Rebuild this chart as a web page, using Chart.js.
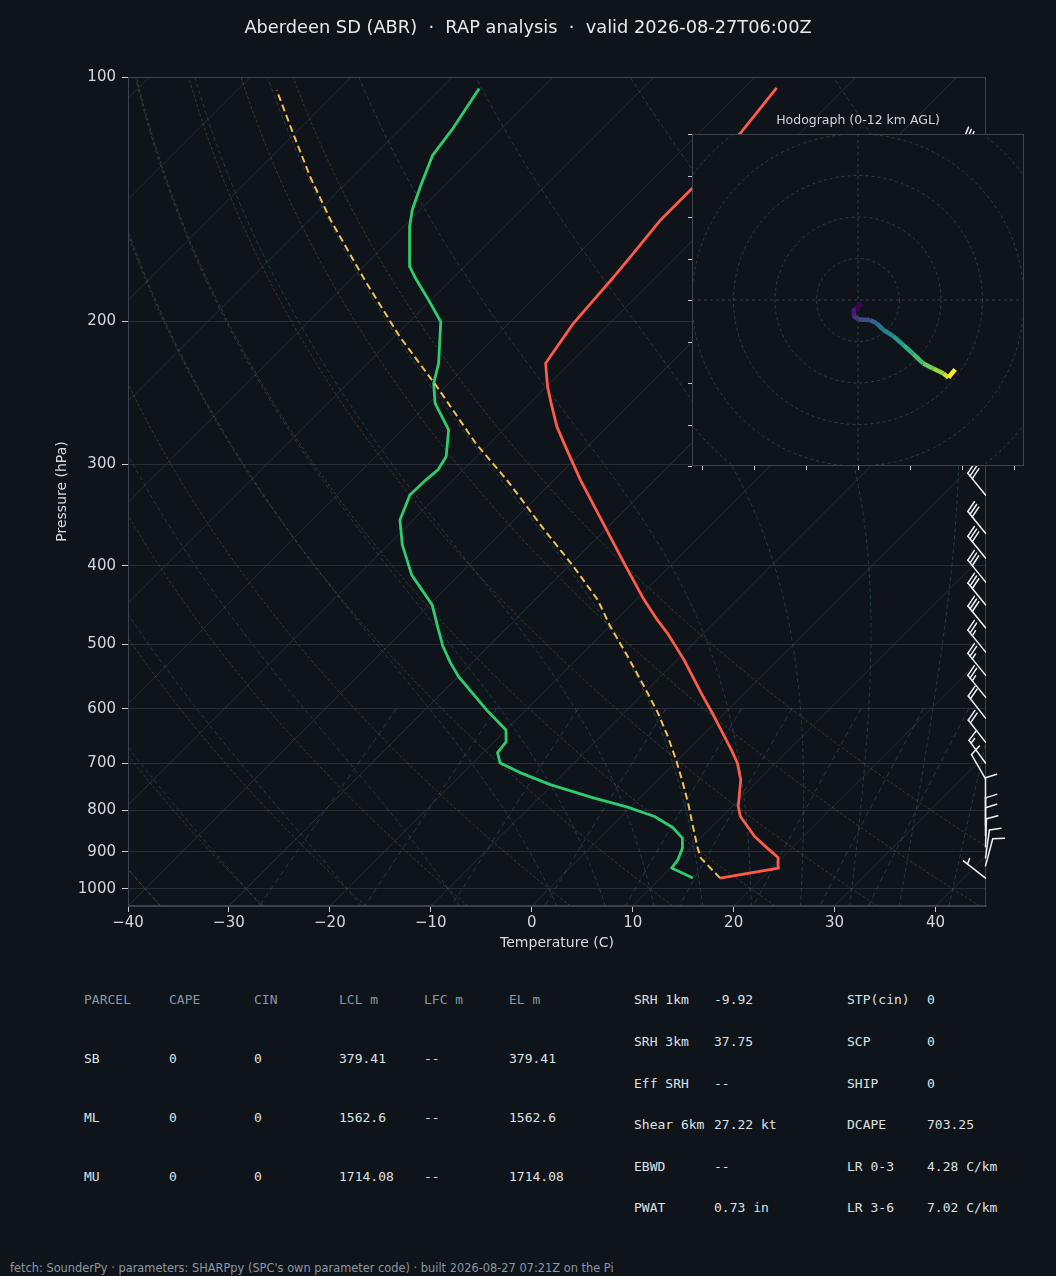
<!DOCTYPE html>
<html><head><meta charset="utf-8">
<script src="https://cdn.jsdelivr.net/npm/chart.js@4.4.1/dist/chart.umd.min.js"></script>
<style>
html,body{margin:0;padding:0;background:#0f141a;}
body{width:1056px;height:1276px;position:relative;overflow:hidden;font-family:'DejaVu Sans',sans-serif;}
canvas{position:absolute;}
#main{left:0;top:0;}
#hodo{left:672px;top:100px;}
.t{position:absolute;white-space:pre;transform:translateY(-50%);line-height:1;}
.mono{font-family:'DejaVu Sans Mono',monospace;font-size:13px;color:#dde1e6;}
.hdr{color:#8797ab;}
</style></head>
<body>
<canvas id="main" width="1056" height="960"></canvas>
<canvas id="hodo" width="370" height="390"></canvas>
<div class="t" style="left:0;width:1056px;text-align:center;top:27px;font-size:17.8px;color:#e6e9ed;">Aberdeen SD (ABR)  ·  RAP analysis  ·  valid 2026-08-27T06:00Z</div>
<div class="t" style="left:758px;width:200px;text-align:center;top:120px;font-size:12.5px;color:#d0d5db;">Hodograph (0-12 km AGL)</div>
<div id="tables"></div>
<div class="t" style="left:10px;top:1269px;font-size:11.4px;color:#8b97a6;">fetch: SounderPy · parameters: SHARPpy (SPC's own parameter code) · built 2026-08-27 07:21Z on the Pi</div>
<script>
// ---------------- DATA ----------------
const tempP = [970.1, 943.0, 915.1, 891.0, 862.2, 814.6, 791.8, 769.7, 734.1, 699.9, 674.2, 613.5, 574.1, 522.4, 484.2, 466.5, 440.6, 400.2, 313.5, 288.0, 269.6, 252.2, 240.6, 225.2, 214.8, 201.1, 188.3, 176.2, 164.9, 150.0, 144.4, 137.1, 117.3, 103.1];
const tempT = [15.9, 20.7, 19.6, 17.6, 15.2, 11.8, 10.6, 9.7, 8.2, 6.2, 4.3, -0.7, -4.3, -9.3, -13.6, -15.9, -19.2, -24.4, -37.4, -41.7, -45.0, -47.9, -49.9, -52.4, -52.9, -53.6, -53.9, -54.2, -54.6, -55.2, -55.2, -55.2, -55.9, -56.8];
const dewP = [970.1, 943.0, 921.1, 891.0, 866.1, 840.5, 814.6, 793.2, 773.2, 744.6, 720.3, 699.9, 679.4, 659.2, 637.2, 602.1, 547.6, 527.2, 503.0, 479.8, 446.9, 410.5, 377.0, 351.3, 327.2, 313.5, 304.8, 293.5, 272.1, 252.2, 238.4, 225.2, 200.2, 187.4, 177.0, 171.3, 152.9, 145.8, 136.5, 124.8, 116.2, 103.3];
const dewT = [13.2, 10.1, 9.9, 9.2, 8.2, 6.2, 3.3, -0.3, -4.5, -10.1, -14.2, -17.3, -18.6, -18.8, -20.0, -23.9, -30.0, -32.1, -34.5, -36.6, -39.7, -44.7, -48.6, -51.3, -52.8, -52.7, -52.5, -53.0, -55.4, -59.4, -61.5, -63.0, -66.9, -70.5, -73.7, -75.4, -79.4, -80.8, -82.3, -84.2, -84.8, -86.2];
const parcelP = [970.1, 916.6, 891.0, 838.2, 784.3, 741.1, 693.4, 649.4, 607.6, 563.5, 517.5, 475.3, 440.6, 400.2, 361.4, 331.9, 313.5, 282.6, 241.7, 208.8, 178.7, 150.0, 132.7, 117.3, 103.8];
const parcelT = [15.9, 12.0, 10.7, 8.1, 5.3, 2.8, -0.2, -3.3, -6.6, -10.6, -15.2, -19.9, -23.8, -29.6, -36.0, -41.2, -44.7, -51.4, -60.6, -69.5, -78.3, -87.9, -94.2, -100.2, -106.1];
const barbP = [970.1, 936.9, 915.9, 887.7, 860.5, 836.5, 790.2, 732.0, 699.9, 659.7, 616.2, 580.6, 545.5, 510.7, 477.0, 446.9, 418.7, 391.3, 364.8, 327.2, 297.9, 277.2, 257.9, 239.9, 223.2, 207.6, 193.1, 179.7, 167.1, 155.4, 144.6, 134.5, 125.1];
const barbDir = [308, 15, 8, 2, 0, 0, 0, 330, 324, 322, 322, 321, 321, 321, 321, 321, 321, 321, 321, 321, 318, 316, 315, 314, 313, 312, 312, 311, 311, 310, 310, 310, 310];
const barbSpd = [5, 10, 10, 10, 10, 10, 10, 10, 15, 20, 20, 25, 25, 25, 30, 30, 30, 30, 30, 30, 30, 30, 35, 35, 35, 35, 35, 35, 35, 35, 35, 35, 35];
const hodoU = [0.9, -1.0, -1.0, 0.1, 2.9, 4.5, 6.1, 8.5, 10.9, 13.3, 15.7, 18.1, 20.6, 21.8, 23.4];
const hodoV = [-0.8, -2.4, -3.9, -4.7, -4.8, -5.6, -7.2, -8.7, -10.8, -13.0, -15.3, -16.5, -17.7, -18.7, -16.7];
const tempTicks = [-40, -30, -20, -10, 0, 10, 20, 30, 40];
const presTicks = [100, 200, 300, 400, 500, 600, 700, 800, 900, 1000];
const hodoYTicks = [-40, -30, -20, -10, 0, 10, 20, 30, 40];
const hodoXTicks = [-37.5, -25, -12.5, 0, 12.5, 25, 37.5];
const hodoRings = [10, 20, 30, 40, 50, 60];
const dryT0 = [-40, -30, -20, -10, 0, 10, 20, 30, 40, 50];
const moistT0 = [-40, -30, -20, -10, 0, 5, 10, 15, 20, 25, 30, 35, 40, 45, 50];
const mixW = [0.4, 1, 2, 4, 7, 10, 16, 24, 32];
const parcelHdr = ['PARCEL', 'CAPE', 'CIN', 'LCL m', 'LFC m', 'EL m'];
const parcelRows = [
  ['SB', '0', '0', '379.41', '--', '379.41'],
  ['ML', '0', '0', '1562.6', '--', '1562.6'],
  ['MU', '0', '0', '1714.08', '--', '1714.08']
];
const paramLabels1 = ['SRH 1km', 'SRH 3km', 'Eff SRH', 'Shear 6km', 'EBWD', 'PWAT'];
const paramValues1 = ['-9.92', '37.75', '--', '27.22 kt', '--', '0.73 in'];
const paramLabels2 = ['STP(cin)', 'SCP', 'SHIP', 'DCAPE', 'LR 0-3', 'LR 3-6'];
const paramValues2 = ['0', '0', '0', '703.25', '4.28 C/km', '7.02 C/km'];

// ---------------- GEOMETRY ----------------
const PBOT = 1050, PTOP = 100;
const SKEW = (829 / Math.log10(PBOT / PTOP)) / (858 / 85); // deg per pressure decade -> 45 deg isotherms
function sk(T, p) { return T + SKEW * Math.log10(PBOT / p); }
const BG = '#0f141a';

// ---------------- TABLES ----------------
(function () {
  const box = document.getElementById('tables');
  const add = (txt, x, y, cls) => {
    const d = document.createElement('div');
    d.className = 't mono' + (cls ? ' ' + cls : '');
    d.style.left = x + 'px'; d.style.top = y + 'px';
    d.textContent = txt; box.appendChild(d);
  };
  const colX = [84, 169, 254, 339, 424, 509];
  parcelHdr.forEach((h, i) => add(h, colX[i], 999, 'hdr'));
  const rowY = [1058, 1117, 1176];
  parcelRows.forEach((r, j) => r.forEach((c, i) => add(c, colX[i], rowY[j])));
  const pY = [999, 1041, 1083, 1124, 1166, 1207];
  paramLabels1.forEach((l, i) => { add(l, 634, pY[i]); add(paramValues1[i], 714, pY[i]); });
  paramLabels2.forEach((l, i) => { add(l, 847, pY[i]); add(paramValues2[i], 927, pY[i]); });
})();

// ---------------- THERMO HELPERS (background guide lines) ----------------
function dTdp(p, T) {
  const es = 6.112 * Math.exp(17.67 * (T - 273.15) / (T - 29.65));
  const rs = 0.622 * es / (p - es);
  const num = 287.04 * T + 2.501e6 * rs;
  const den = 1005.7 + (2.501e6 * 2.501e6 * rs * 0.622) / (287.04 * T * T);
  return num / den / p;
}
function moistLine(t0) {
  const step = 5;
  let T = t0 + 273.15, p = 1000;
  const up = [[p, T]];
  while (p > PTOP) {
    const h = -step;
    const k1 = dTdp(p, T), k2 = dTdp(p + h / 2, T + h / 2 * k1), k3 = dTdp(p + h / 2, T + h / 2 * k2), k4 = dTdp(p + h, T + h * k3);
    T += h / 6 * (k1 + 2 * k2 + 2 * k3 + k4); p += h; up.push([p, T]);
  }
  T = t0 + 273.15; p = 1000; const down = [];
  while (p < PBOT) {
    const h = step;
    const k1 = dTdp(p, T), k2 = dTdp(p + h / 2, T + h / 2 * k1), k3 = dTdp(p + h / 2, T + h / 2 * k2), k4 = dTdp(p + h, T + h * k3);
    T += h / 6 * (k1 + 2 * k2 + 2 * k3 + k4); p += h; down.push([p, T]);
  }
  return down.reverse().concat(up).map(a => [a[0], a[1] - 273.15]);
}

function strokePath(ctx, pts, X, Y) {
  ctx.beginPath();
  pts.forEach((q, i) => { const px = X(q[1], q[0]), py = Y(q[0]); if (i) ctx.lineTo(px, py); else ctx.moveTo(px, py); });
  ctx.stroke();
}

const skewBg = {
  id: 'skewBg',
  beforeDatasetsDraw(chart) {
    const { ctx, chartArea: a, scales: { x, y } } = chart;
    const X = (T, p) => x.getPixelForValue(sk(T, p)), Y = p => y.getPixelForValue(p);
    ctx.save();
    ctx.beginPath(); ctx.rect(a.left, a.top, a.right - a.left, a.bottom - a.top); ctx.clip();
    ctx.lineWidth = 1;
    ctx.strokeStyle = '#262d37'; ctx.setLineDash([]);
    for (let T = -130; T <= 40; T += 10) {
      ctx.beginPath(); ctx.moveTo(X(T, PBOT), Y(PBOT)); ctx.lineTo(X(T, PTOP), Y(PTOP)); ctx.stroke();
    }
    ctx.strokeStyle = 'rgba(150,112,62,0.38)'; ctx.setLineDash([3, 2]);
    dryT0.forEach(t0 => {
      const pts = [];
      for (let p = PBOT; p >= PTOP; p -= 10) pts.push([p, (t0 + 273.15) * Math.pow(p / 1000, 0.2857) - 273.15]);
      strokePath(ctx, pts, X, Y);
    });
    ctx.strokeStyle = 'rgba(70,125,145,0.38)'; ctx.setLineDash([4, 3]);
    moistT0.forEach(t0 => strokePath(ctx, moistLine(t0), X, Y));
    ctx.strokeStyle = 'rgba(75,110,150,0.42)'; ctx.setLineDash([5, 4]);
    mixW.forEach(w => {
      const pts = [];
      for (let p = 600; p <= PBOT; p += 10) {
        const e = p * w / (622 + w), l = Math.log(e / 6.112);
        pts.push([p, 243.5 * l / (17.67 - l)]);
      }
      strokePath(ctx, pts, X, Y);
    });
    ctx.restore();
  },
  afterDatasetsDraw(chart) {
    const { ctx, chartArea: a, scales: { y } } = chart;
    ctx.save();
    ctx.strokeStyle = '#3a4451'; ctx.lineWidth = 1; ctx.setLineDash([]);
    ctx.strokeRect(a.left + 0.5, a.top + 0.5, a.right - a.left - 1, a.bottom - a.top - 1);
    ctx.strokeStyle = '#eef0f3'; ctx.fillStyle = '#eef0f3'; ctx.lineWidth = 1.5; ctx.lineCap = 'round';
    const L = 28, fh = 0.4 * L, fw = 0.25 * L, sp = 0.125 * L;
    barbP.forEach((p, i) => {
      const bx = a.right - 0.5, by = y.getPixelForValue(p);
      const rad = barbDir[i] * Math.PI / 180;
      const sx = Math.sin(rad), sy = -Math.cos(rad), rx = Math.cos(rad), ry = Math.sin(rad);
      const P = (o, h) => [bx + sx * o + rx * h, by + sy * o + ry * h];
      let r = Math.round(barbSpd[i] / 5) * 5;
      const nf = Math.floor(r / 50); r -= nf * 50;
      const nb = Math.floor(r / 10); r -= nb * 10;
      const half = r >= 5;
      ctx.beginPath();
      let q = P(0, 0); ctx.moveTo(q[0], q[1]); q = P(L, 0); ctx.lineTo(q[0], q[1]); ctx.stroke();
      let off = L;
      for (let k = 0; k < nf; k++) {
        if (off !== L) off += sp / 2;
        ctx.beginPath();
        let a1 = P(off, 0), a2 = P(off - fw / 2, fh), a3 = P(off - fw, 0);
        ctx.moveTo(a1[0], a1[1]); ctx.lineTo(a2[0], a2[1]); ctx.lineTo(a3[0], a3[1]); ctx.closePath(); ctx.fill();
        off -= fw + sp;
      }
      for (let k = 0; k < nb; k++) {
        ctx.beginPath();
        let a1 = P(off, 0), a2 = P(off + fw / 2, fh);
        ctx.moveTo(a1[0], a1[1]); ctx.lineTo(a2[0], a2[1]); ctx.stroke();
        off -= sp;
      }
      if (half) {
        if (off === L) off -= 1.5 * sp;
        ctx.beginPath();
        let a1 = P(off, 0), a2 = P(off + fw / 4, fh / 2);
        ctx.moveTo(a1[0], a1[1]); ctx.lineTo(a2[0], a2[1]); ctx.stroke();
      }
    });
    ctx.restore();
  }
};

Chart.defaults.font.family = "'DejaVu Sans', sans-serif";

const minus = v => (v < 0 ? '\u2212' + Math.abs(v) : String(v));
const mk = (P, T) => P.map((p, i) => ({ x: sk(T[i], p), y: p }));

new Chart(document.getElementById('main'), {
  type: 'line',
  data: {
    datasets: [
      { data: mk(parcelP, parcelT), borderColor: '#f2c14e', borderWidth: 2, borderDash: [7, 4], pointRadius: 0, tension: 0, fill: false },
      { data: mk(dewP, dewT), borderColor: '#2ecc71', borderWidth: 2.8, pointRadius: 0, tension: 0, fill: false, borderJoinStyle: 'round' },
      { data: mk(tempP, tempT), borderColor: '#ff5a4a', borderWidth: 2.8, pointRadius: 0, tension: 0, fill: false, borderJoinStyle: 'round' }
    ]
  },
  options: {
    responsive: false, animation: false, devicePixelRatio: 1,
    layout: { padding: { left: 50, right: 70, top: 77, bottom: 8 } },
    plugins: { legend: { display: false }, tooltip: { enabled: false } },
    scales: {
      x: {
        type: 'linear', min: -40, max: 45,
        afterBuildTicks: s => { s.ticks = tempTicks.map(v => ({ value: v })); },
        afterFit: s => { s.height = 46; },
        ticks: { color: '#d3d7dd', font: { size: 15 }, padding: 2, maxRotation: 0, callback: v => minus(v) },
        grid: { display: true, drawOnChartArea: false, drawTicks: true, tickLength: 6, tickColor: '#c8ccd2' },
        border: { display: true, color: '#3a4451' },
        title: { display: true, text: 'Temperature (C)', color: '#d8dce2', font: { size: 14 }, padding: { top: 0, bottom: 0 } }
      },
      y: {
        type: 'logarithmic', min: PTOP, max: PBOT, reverse: true,
        afterBuildTicks: s => { s.ticks = presTicks.map(v => ({ value: v })); },
        afterFit: s => { s.width = 78; },
        ticks: { color: '#d3d7dd', font: { size: 15 }, padding: 6, callback: v => String(v) },
        grid: { color: '#262d37', lineWidth: 1, drawTicks: true, tickLength: 6, tickColor: '#c8ccd2' },
        border: { display: true, color: '#3a4451' },
        title: { display: true, text: 'Pressure (hPa)', color: '#d8dce2', font: { size: 14 }, padding: { top: 4, bottom: 0 } }
      }
    }
  },
  plugins: [skewBg]
});

// ---------------- HODOGRAPH ----------------
const VIR = [[68, 1, 84], [72, 40, 120], [62, 74, 137], [49, 104, 142], [38, 130, 142], [31, 158, 137], [53, 183, 121], [109, 205, 89], [180, 222, 44], [253, 231, 37]];
function viridis(t) {
  t = Math.max(0, Math.min(1, t)) * (VIR.length - 1);
  const i = Math.min(VIR.length - 2, Math.floor(t)), f = t - i;
  const c = VIR[i].map((v, k) => Math.round(v + (VIR[i + 1][k] - v) * f));
  return 'rgb(' + c.join(',') + ')';
}
const hodoBg = {
  id: 'hodoBg',
  beforeDatasetsDraw(chart) {
    const { ctx, chartArea: a, scales: { x, y } } = chart;
    ctx.save();
    ctx.fillStyle = BG; ctx.fillRect(a.left, a.top, a.right - a.left, a.bottom - a.top);
    ctx.beginPath(); ctx.rect(a.left, a.top, a.right - a.left, a.bottom - a.top); ctx.clip();
    ctx.strokeStyle = '#343d49'; ctx.lineWidth = 1; ctx.setLineDash([3, 3]);
    const cx = x.getPixelForValue(0), cy = y.getPixelForValue(0);
    hodoRings.forEach(r => {
      const rp = x.getPixelForValue(r) - cx;
      ctx.beginPath(); ctx.arc(cx, cy, rp, 0, Math.PI * 2); ctx.stroke();
    });
    ctx.beginPath(); ctx.moveTo(a.left, cy); ctx.lineTo(a.right, cy); ctx.moveTo(cx, a.top); ctx.lineTo(cx, a.bottom); ctx.stroke();
    ctx.restore();
  },
  afterDraw(chart) {
    const { ctx, chartArea: a, scales: { x, y } } = chart;
    ctx.save();
    ctx.strokeStyle = '#3a4451'; ctx.lineWidth = 1; ctx.setLineDash([]);
    ctx.strokeRect(a.left + 0.5, a.top + 0.5, a.right - a.left - 1, a.bottom - a.top - 1);
    ctx.strokeStyle = '#c8ccd2';
    ctx.beginPath();
    hodoYTicks.forEach(v => { const py = Math.round(y.getPixelForValue(v)) + 0.5; ctx.moveTo(a.left, py); ctx.lineTo(a.left - 4, py); });
    hodoXTicks.forEach(v => { const px = Math.round(x.getPixelForValue(v)) + 0.5; ctx.moveTo(px, a.bottom); ctx.lineTo(px, a.bottom + 4); });
    ctx.stroke();
    ctx.restore();
  }
};
const nH = hodoU.length;
new Chart(document.getElementById('hodo'), {
  type: 'line',
  data: {
    datasets: [{
      data: hodoU.map((u, i) => ({ x: u, y: hodoV[i] })),
      borderWidth: 4.5, pointRadius: 0, tension: 0, fill: false, borderJoinStyle: 'round', borderCapStyle: 'butt',
      borderColor: viridis(0),
      segment: { borderColor: c => viridis(c.p0DataIndex / (nH - 2)) }
    }]
  },
  options: {
    responsive: false, animation: false, devicePixelRatio: 1,
    layout: { padding: { left: 20, top: 34, right: 18, bottom: 24 } },
    plugins: { legend: { display: false }, tooltip: { enabled: false } },
    scales: {
      x: { type: 'linear', min: -40, max: 40, display: false },
      y: { type: 'linear', min: -40, max: 40, display: false }
    }
  },
  plugins: [hodoBg]
});
</script>
</body></html>
